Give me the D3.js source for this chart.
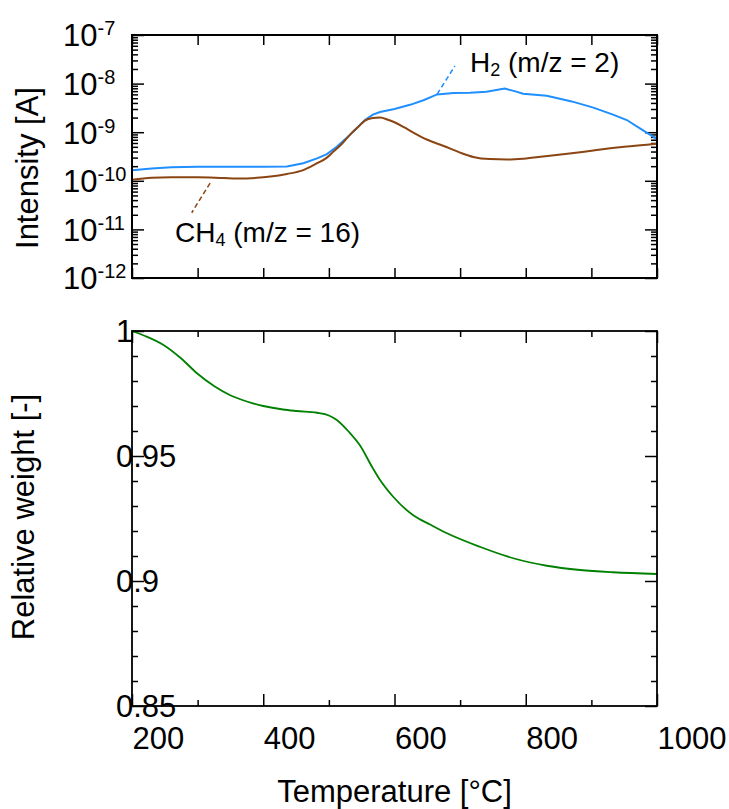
<!DOCTYPE html>
<html><head><meta charset="utf-8">
<script src="https://cdn.jsdelivr.net/npm/d3@7"></script>
<style>
body{margin:0;background:#fff;}
svg{display:block;font-family:"Liberation Sans",Arial,sans-serif;}
</style></head>
<body><svg id="c" width="729" height="809"></svg>
<script>
// ---------- data ----------
const h2Temp = [200,230,260,300,350,400,436,461,482,497,512,532,555,567,578,600,625,645,665,690,715,740,768,783,796,832,870,903,933,954,974,1000];
const h2Val  = [1.65e-10,1.8e-10,1.9e-10,1.95e-10,1.95e-10,1.95e-10,1.97e-10,2.3e-10,2.9e-10,3.55e-10,5.0e-10,8.8e-10,1.78e-9,2.3e-9,2.6e-9,3.0e-9,3.7e-9,4.6e-9,6.0e-9,6.4e-9,6.5e-9,6.8e-9,7.9e-9,7.0e-9,6.2e-9,5.6e-9,4.3e-9,3.2e-9,2.3e-9,1.78e-9,1.2e-9,7.2e-10];
const ch4Temp = [200,230,260,300,340,360,390,411,436,461,482,497,507,520,532,545,555,567,578,590,600,615,630,650,675,700,720,745,771,796,830,870,903,950,1000];
const ch4Val  = [1.05e-10,1.15e-10,1.18e-10,1.18e-10,1.14e-10,1.12e-10,1.15e-10,1.22e-10,1.38e-10,1.66e-10,2.3e-10,3.0e-10,4.0e-10,5.8e-10,8.8e-10,1.3e-9,1.73e-9,1.95e-9,2.0e-9,1.8e-9,1.6e-9,1.25e-9,9.6e-10,7.0e-10,5.2e-10,3.8e-10,3.1e-10,2.8e-10,2.75e-10,2.85e-10,3.2e-10,3.7e-10,4.2e-10,5.0e-10,5.8e-10];
const wTemp = [200,220,248,275,299,325,349,375,400,430,451,482,500,512,530,547,567,578,598,628,655,680,730,781,832,883,933,1000];
const wVal  = [1.0,0.998,0.9944,0.989,0.9831,0.978,0.9744,0.9718,0.970,0.9686,0.968,0.9673,0.9662,0.9644,0.9598,0.9544,0.9451,0.9404,0.9337,0.9264,0.9225,0.9191,0.9137,0.9091,0.9061,0.9044,0.9035,0.9028];
const xTicks = [200,400,600,800,1000];
const xMinorTicks = [300,500,700,900];
const logDecades = [-12,-11,-10,-9,-8,-7];
const wTicks = [0.85,0.9,0.95,1];
const labels = {h2:["H","2"," (m/z = 2)"], ch4:["CH","4"," (m/z = 16)"]};
const h2Anno = {line:[[665,6.1e-9],[692,2.3e-8]], text:[715,1.73e-8]};
const ch4Anno = {line:[[319,9.0e-11],[291,2.2e-11]], text:[265.5,5.5e-12]};

// ---------- layout ----------
const L=132,R=657, T1=35,B1=278, T2=331,B2=706;
const FS=31;
const svg=d3.select("#c");
const x=d3.scaleLinear().domain([200,1000]).range([L,R]);
const y1=d3.scaleLog().domain([1e-12,1e-7]).range([B1,T1]);
const y2=d3.scaleLinear().domain([0.85,1]).range([B2,T2]);

const blue="#1f8fff", brown="#8b4513", green="#008000";

function styleAxis(g){g.select(".domain").remove();g.selectAll(".tick line").attr("stroke","#000").attr("stroke-width",1.5);}

// ---------- top panel ----------
const allX = d3.range(200,1001,100);
svg.append("g").attr("transform",`translate(0,${T1})`).call(d3.axisTop(x).tickValues(allX).tickSize(-10).tickFormat("")).call(styleAxis);
svg.append("g").attr("transform",`translate(0,${B1})`).call(d3.axisBottom(x).tickValues(allX).tickSize(-10).tickFormat("")).call(styleAxis);
const majorLog = logDecades.map(e=>Math.pow(10,e));
const minorLog = [];
logDecades.slice(0,-1).forEach(e=>{for(let k=2;k<=9;k++)minorLog.push(k*Math.pow(10,e));});
[[d3.axisLeft,L],[d3.axisRight,R]].forEach(([ax,pos])=>{
  svg.append("g").attr("transform",`translate(${pos},0)`).call(ax(y1).tickValues(minorLog).tickSize(-6).tickFormat("")).call(styleAxis);
  svg.append("g").attr("transform",`translate(${pos},0)`).call(ax(y1).tickValues(majorLog).tickSize(-12).tickFormat("")).call(styleAxis);
});
// log labels
const ylab = svg.append("g").attr("transform",`translate(${L},0)`).call(d3.axisLeft(y1).tickValues(majorLog).tickSize(0).tickFormat(""));
ylab.select(".domain").remove();
ylab.selectAll(".tick text").each(function(d){
  const t=d3.select(this).attr("x",-69).attr("dy","0.35em").attr("text-anchor","start").attr("font-size",FS).attr("fill","#000").attr("font-family",null);
  t.text("10");
  t.append("tspan").attr("font-size",20).attr("dy",-11).text(String(Math.round(Math.log10(d))));
});

const line1=d3.line().x(d=>x(d[0])).y(d=>y1(d[1]));
svg.append("path").datum(d3.zip(h2Temp,h2Val)).attr("d",line1).attr("fill","none").attr("stroke",blue).attr("stroke-width",2);
svg.append("path").datum(d3.zip(ch4Temp,ch4Val)).attr("d",line1.curve(d3.curveMonotoneX)).attr("fill","none").attr("stroke",brown).attr("stroke-width",2);
line1.curve(d3.curveLinear);
svg.append("rect").attr("x",L).attr("y",T1).attr("width",R-L).attr("height",B1-T1).attr("fill","none").attr("stroke","#000").attr("stroke-width",2);

// annotations
function anno(a,col,lab){
  svg.append("path").datum(a.line).attr("d",line1).attr("stroke",col).attr("stroke-width",1.5).attr("stroke-dasharray","5,3").attr("fill","none");
  const t=svg.append("text").attr("x",x(a.text[0])).attr("y",y1(a.text[1])).attr("font-size",28).attr("fill","#000");
  t.append("tspan").text(lab[0]);
  t.append("tspan").attr("font-size",18).attr("dy",4).text(lab[1]);
  t.append("tspan").attr("dy",-4).text(lab[2]);
}
anno(h2Anno,blue,labels.h2);
anno(ch4Anno,brown,labels.ch4);

svg.append("text").attr("transform",`translate(38,168) rotate(-90)`).attr("text-anchor","middle").attr("font-size",FS).text("Intensity [A]");

// ---------- bottom panel ----------
svg.append("g").attr("transform",`translate(0,${T2})`).call(d3.axisTop(x).tickValues(xTicks).tickSize(-12).tickFormat("")).call(styleAxis);
svg.append("g").attr("transform",`translate(0,${T2})`).call(d3.axisTop(x).tickValues(xMinorTicks).tickSize(-6).tickFormat("")).call(styleAxis);
svg.append("g").attr("transform",`translate(0,${B2})`).call(d3.axisBottom(x).tickValues(xMinorTicks).tickSize(-6).tickFormat("")).call(styleAxis);
const xb = svg.append("g").attr("transform",`translate(0,${B2})`).call(d3.axisBottom(x).tickValues(xTicks).tickSize(-12).tickFormat(d=>String(d))).call(styleAxis);
xb.selectAll(".tick text").attr("y",43).attr("dy",0).attr("x",0).attr("text-anchor","start").attr("font-size",FS).attr("fill","#000").attr("font-family",null);

const wMinor = d3.range(86,100).map(v=>v/100).filter(v=>Math.abs(v-0.9)>1e-9&&Math.abs(v-0.95)>1e-9);
[[d3.axisLeft,L],[d3.axisRight,R]].forEach(([ax,pos])=>{
  svg.append("g").attr("transform",`translate(${pos},0)`).call(ax(y2).tickValues(wMinor).tickSize(-6).tickFormat("")).call(styleAxis);
  svg.append("g").attr("transform",`translate(${pos},0)`).call(ax(y2).tickValues(wTicks).tickSize(-12).tickFormat("")).call(styleAxis);
});
const yl2 = svg.append("g").attr("transform",`translate(${L},0)`).call(d3.axisLeft(y2).tickValues(wTicks).tickSize(0).tickFormat(d=>String(d)));
yl2.select(".domain").remove();
yl2.selectAll(".tick text").attr("x",-16).attr("dy","0.35em").attr("text-anchor","start").attr("font-size",FS).attr("fill","#000").attr("font-family",null);

const line2=d3.line().x(d=>x(d[0])).y(d=>y2(d[1])).curve(d3.curveMonotoneX);
svg.append("path").datum(d3.zip(wTemp,wVal)).attr("d",line2).attr("fill","none").attr("stroke",green).attr("stroke-width",1.8);
svg.append("rect").attr("x",L).attr("y",T2).attr("width",R-L).attr("height",B2-T2).attr("fill","none").attr("stroke","#000").attr("stroke-width",1.8);

svg.append("text").attr("transform",`translate(34,517) rotate(-90)`).attr("text-anchor","middle").attr("font-size",FS).text("Relative weight [-]");
svg.append("text").attr("x",(L+R)/2).attr("y",802).attr("text-anchor","middle").attr("font-size",FS).text("Temperature [°C]");
</script></body></html>
